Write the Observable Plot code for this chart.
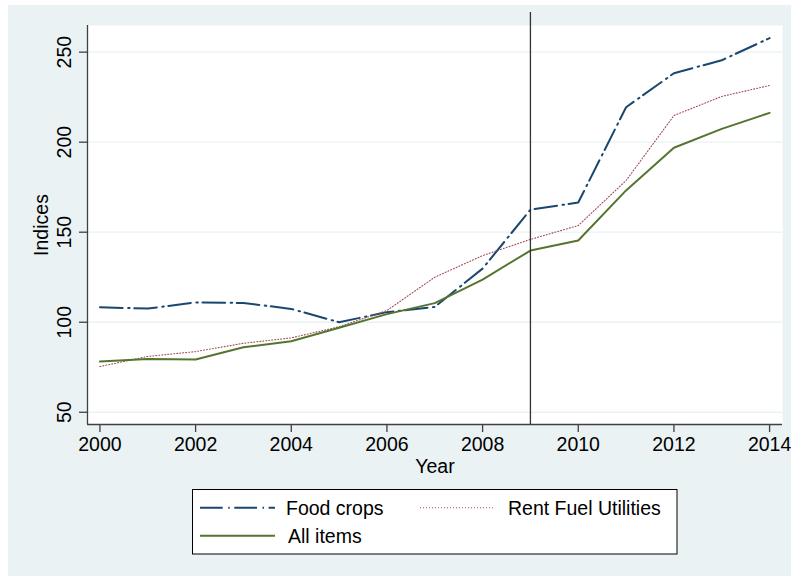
<!DOCTYPE html>
<html>
<head>
<meta charset="utf-8">
<script src="https://cdn.jsdelivr.net/npm/d3@7"></script>
<script src="https://cdn.jsdelivr.net/npm/@observablehq/plot@0.6"></script>
<style>
  html, body { margin: 0; padding: 0; background: #ffffff; width: 791px; height: 576px; overflow: hidden; }
  #bg { position: absolute; left: 8px; top: 5px; right: 0; bottom: 0; background: #EAF2F3; }
  #chart { position: absolute; left: 0; top: 0; }
  #legend { position: absolute; left: 192px; top: 489px; }
  svg text { font-family: "Liberation Sans", Arial, sans-serif; }
</style>
</head>
<body>
<div id="bg"></div>
<div id="chart"></div>
<div id="legend"></div>
<script>
const years = [2000, 2001, 2002, 2003, 2004, 2005, 2006, 2007, 2008, 2009, 2010, 2011, 2012, 2013, 2014];
const foodCrops = [108.3, 107.6, 111.0, 110.7, 107.4, 100.0, 105.6, 108.5, 129.8, 162.5, 166.5, 219.4, 238.3, 245.5, 257.8];
const rentFuelUtilities = [75.4, 81.0, 83.7, 88.3, 91.3, 97.5, 106.5, 125.0, 137.0, 146.0, 153.7, 178.7, 214.8, 225.4, 231.5];
const allItems = [78.2, 79.6, 79.3, 86.1, 89.4, 96.9, 104.5, 110.6, 123.7, 139.8, 145.4, 173.2, 196.9, 207.4, 216.3];
const seriesNames = ["Food crops", "Rent Fuel Utilities", "All items"];
const xTicks = [2000, 2002, 2004, 2006, 2008, 2010, 2012, 2014];
const yTicks = [50, 100, 150, 200, 250];
const eventYear = [2009];
const xDomain = [1999.74, 2014.27];
const yDomain = [43.2, 264.8];

const styles = {
  "Food crops": {stroke: "#1A476F", strokeWidth: 2, strokeDasharray: "22.7,5.5,1.5,4.6"},
  "Rent Fuel Utilities": {stroke: "#A24A52", strokeWidth: 1.1, strokeDasharray: "1,2"},
  "All items": {stroke: "#55752F", strokeWidth: 2, strokeDasharray: null}
};
const valuesBySeries = {"Food crops": foodCrops, "Rent Fuel Utilities": rentFuelUtilities, "All items": allItems};
const tidy = name => years.map((y, i) => ({year: y, value: valuesBySeries[name][i], series: name}));

const font = "Liberation Sans, Arial, sans-serif";
const axisColor = "#404040";

const plot = Plot.plot({
  width: 791,
  height: 490,
  marginLeft: 87,
  marginRight: 9,
  marginTop: 25,
  marginBottom: 66,
  style: {background: "transparent", fontFamily: font, fontSize: "19.5px", color: "#000", overflow: "visible"},
  x: {domain: xDomain},
  y: {domain: yDomain},
  marks: [
    Plot.frame({fill: "white", stroke: null}),
    Plot.gridY(yTicks, {stroke: "#EAF2F3", strokeOpacity: 1, strokeWidth: 1.3}),
    Plot.axisX({ticks: xTicks, tickSize: 8, tickPadding: 4.5, tickFormat: d => String(d), label: null, stroke: axisColor, strokeWidth: 1.3, fill: "#000", fontSize: 19.5}),
    Plot.axisY({ticks: yTicks, tickSize: 8, tickFormat: () => "", label: null, stroke: axisColor, strokeWidth: 1.3}),
    Plot.text(yTicks, {x: xDomain[0], y: d => d, text: d => String(d), rotate: -90, dx: -17, lineAnchor: "bottom", textAnchor: "middle", fill: "#000", fontSize: 19.5}),
    Plot.text(["Indices"], {frameAnchor: "left", text: d => d, rotate: -90, dx: -40, lineAnchor: "bottom", textAnchor: "middle", fill: "#000", fontSize: 19.5}),
    Plot.text(["Year"], {frameAnchor: "bottom", text: d => d, dy: 48, lineAnchor: "bottom", textAnchor: "middle", fill: "#000", fontSize: 19.5}),
    Plot.ruleX([xDomain[0]], {stroke: axisColor, strokeWidth: 1.3}),
    Plot.ruleY([yDomain[0]], {stroke: axisColor, strokeWidth: 1.3}),
    ...seriesNames.map(name => Plot.line(tidy(name), {x: "year", y: "value", ...styles[name], strokeLinejoin: "round"})),
    Plot.ruleX(eventYear, {stroke: "#333", strokeWidth: 1.3, insetTop: -13})
  ]
});
document.getElementById("chart").appendChild(plot);

// Legend (below the SVG chart)
const lg = d3.select("#legend").append("svg")
  .attr("width", 486).attr("height", 66)
  .style("overflow", "visible");
lg.append("rect").attr("x", 0.5).attr("y", 0.5).attr("width", 484.5).attr("height", 64.5)
  .attr("fill", "white").attr("stroke", "#000").attr("stroke-width", 1);
const items = [
  {name: seriesNames[0], x1: 8, tx: 94, y: 18.7},
  {name: seriesNames[1], x1: 228, tx: 316, y: 18.7},
  {name: seriesNames[2], x1: 8, tx: 96, y: 46.7}
];
items.forEach(it => {
  const s = styles[it.name];
  lg.append("line").attr("x1", it.x1).attr("x2", it.x1 + 75).attr("y1", it.y).attr("y2", it.y)
    .attr("stroke", s.stroke).attr("stroke-width", s.strokeWidth)
    .attr("stroke-dasharray", s.strokeDasharray);
  lg.append("text").attr("x", it.tx).attr("y", it.y).attr("dy", "0.36em")
    .attr("font-size", "19.5px").attr("fill", "#000").text(it.name);
});
</script>
</body>
</html>
